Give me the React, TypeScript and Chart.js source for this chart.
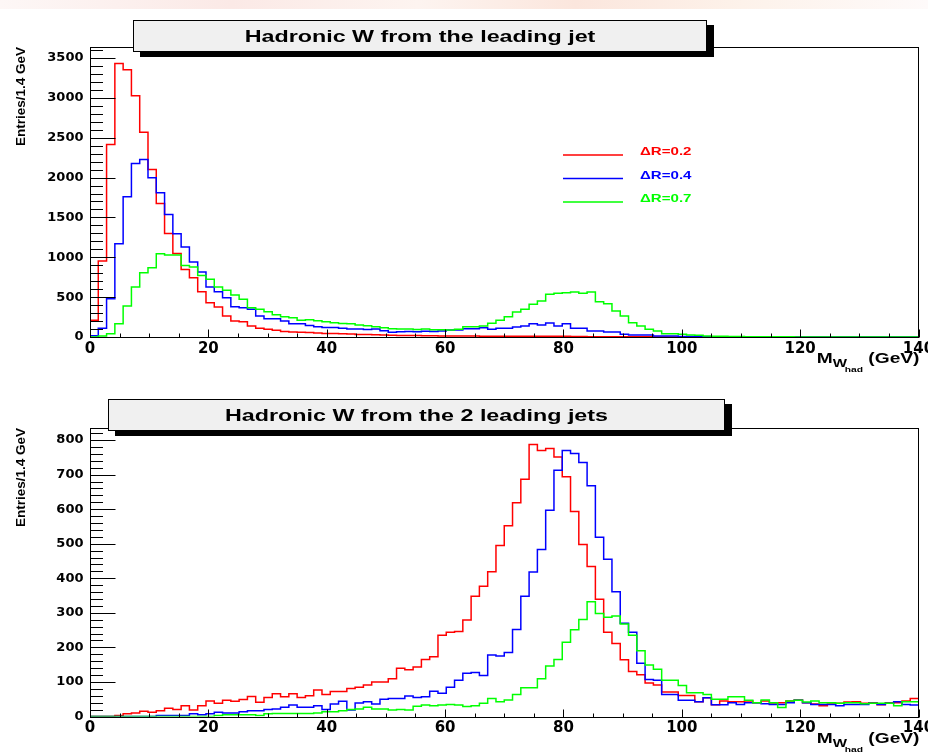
import React, { useEffect, useRef } from "react";
import { Chart, registerables } from "chart.js";

Chart.register(...registerables);

// ---------------- data ----------------
const BIN_WIDTH = 1.4;
const X_MIN = 0;
const X_MAX = 140;
const X_MAJOR = [0, 20, 40, 60, 80, 100, 120, 140];
const X_MINOR_STEP = 5;

const TOP_TITLE = "Hadronic W from the leading jet";
const BOTTOM_TITLE = "Hadronic W from the 2 leading jets";
const Y_TITLE = "Entries/1.4 GeV";
const SERIES_LABELS = ["\u0394R=0.2", "\u0394R=0.4", "\u0394R=0.7"];
const SERIES_COLORS = ["#ff0000", "#0000ff", "#00ff00"];

const TOP_Y_MAJOR = [0, 500, 1000, 1500, 2000, 2500, 3000, 3500];
const TOP_Y_MINOR_STEP = 100;
const TOP_Y_MAX = 3638;

const BOT_Y_MAJOR = [0, 100, 200, 300, 400, 500, 600, 700, 800];
const BOT_Y_MINOR_STEP = 20;
const BOT_Y_MAX = 835;

// leading jet, 100 bins of 1.4 GeV
const TOP_R02 = [
  210, 953, 2414, 3430, 3354, 3028, 2569, 2101, 1675, 1299,
  1048, 848, 743, 568, 430, 376, 263, 200, 192, 138,
  109, 96, 84, 70, 62, 60, 58, 50, 45, 45,
  42, 38, 32, 30, 28, 25, 22, 20, 20, 18,
  16, 15, 14, 13, 12, 12, 11, 10, 10, 10,
  9, 9, 9, 9, 9, 10, 10, 8, 6, 5,
  4, 3, 3, 2, 2, 2, 2, 2, 1, 1,
  1, 1, 1, 1, 1, 1, 1, 1, 1, 1,
  1, 1, 0, 1, 0, 0, 1, 0, 0, 0,
  0, 0, 0, 0, 0, 0, 0, 0, 0, 0,
];
const TOP_R04 = [
  15, 109, 480, 1170, 1760, 2178, 2228, 1998, 1810, 1538,
  1296, 1128, 941, 815, 627, 569, 493, 380, 368, 347,
  263, 230, 230, 200, 165, 165, 145, 130, 120, 120,
  110, 100, 100, 95, 100, 78, 60, 67, 70, 65,
  72, 68, 75, 88, 88, 104, 104, 117, 96, 109,
  109, 125, 138, 167, 150, 175, 138, 167, 109, 109,
  75, 75, 63, 63, 33, 25, 25, 25, 12, 12,
  12, 6, 5, 5, 4, 4, 3, 3, 3, 2,
  2, 2, 2, 2, 1, 1, 1, 1, 1, 1,
  1, 1, 1, 1, 0, 1, 0, 0, 1, 0,
];
const TOP_R07 = [
  0, 12, 42, 167, 389, 627, 806, 869, 1045, 1028,
  1028, 898, 877, 773, 723, 627, 585, 526, 472, 368,
  347, 317, 280, 255, 240, 210, 215, 205, 190, 180,
  170, 165, 150, 140, 130, 115, 105, 100, 100, 95,
  100, 92, 90, 88, 96, 130, 130, 138, 171, 209,
  255, 313, 347, 410, 451, 535, 548, 556, 564, 548,
  564, 443, 418, 326, 263, 180, 138, 96, 75, 42,
  42, 33, 25, 21, 12, 10, 8, 6, 5, 4,
  3, 2, 2, 2, 2, 1, 1, 1, 1, 1,
  1, 1, 0, 1, 0, 0, 1, 0, 0, 0,
];

// two leading jets
const BOT_R02 = [
  0, 0, 0, 3, 8, 10, 15, 12, 17, 24,
  20, 31, 19, 31, 45, 38, 47, 44, 49, 58,
  41, 55, 66, 57, 66, 55, 60, 77, 64, 72,
  72, 81, 85, 91, 100, 100, 109, 140, 135, 143,
  165, 173, 235, 244, 246, 279, 348, 377, 419, 495,
  552, 619, 687, 787, 770, 776, 751, 694, 593, 498,
  434, 339, 244, 211, 164, 130, 121, 97, 91, 71,
  71, 61, 61, 43, 54, 34, 45, 43, 43, 45,
  40, 45, 36, 40, 45, 48, 40, 36, 31, 36,
  38, 42, 43, 38, 40, 34, 40, 40, 45, 52,
];
const BOT_R04 = [
  0, 0, 0, 0, 0, 0, 0, 0, 3, 3,
  3, 3, 8, 5, 8, 12, 10, 10, 14, 17,
  17, 20, 22, 27, 33, 27, 27, 31, 20, 36,
  44, 19, 39, 43, 36, 50, 52, 52, 59, 55,
  57, 73, 67, 85, 105, 125, 127, 119, 178, 175,
  185, 252, 348, 418, 483, 597, 713, 770, 761, 735,
  668, 519, 455, 361, 270, 244, 154, 107, 105, 64,
  64, 47, 47, 43, 54, 34, 34, 40, 35, 40,
  40, 37, 35, 35, 40, 47, 40, 35, 35, 35,
  31, 35, 35, 35, 38, 35, 38, 43, 35, 33,
];
const BOT_R07 = [
  0, 0, 0, 0, 0, 0, 0, 0, 0, 0,
  0, 0, 0, 0, 0, 3, 5, 5, 5, 5,
  3, 8, 9, 9, 9, 9, 9, 10, 14, 14,
  17, 20, 22, 27, 22, 22, 19, 20, 19, 30,
  33, 31, 33, 35, 33, 29, 31, 38, 52, 43,
  48, 64, 83, 83, 109, 146, 165, 215, 251, 281,
  332, 298, 287, 291, 268, 235, 190, 149, 137, 105,
  105, 90, 69, 69, 64, 50, 50, 57, 57, 47,
  40, 48, 40, 26, 45, 47, 42, 45, 40, 40,
  38, 40, 40, 37, 38, 38, 38, 31, 43, 43,
];

// ---------------- styling ----------------
const SX = 1.37; // horizontal stretch of the original lettering
const TEXT_FONT = "'Liberation Sans', Arial, sans-serif";
const TICK_FONT = "'DejaVu Sans', sans-serif";

type Box = { x: number; y: number; w: number; h: number };
type Panel = {
  title: string;
  series: number[][];
  yMax: number;
  yMajor: number[];
  yMinorStep: number;
  legend: boolean;
  height: number;
  areaTop: number;
  xAxisHeight: number;
  box: Box;
};

const PANELS: { top: number; panel: Panel }[] = [
  {
    top: 0,
    panel: {
      title: TOP_TITLE,
      series: [TOP_R02, TOP_R04, TOP_R07],
      yMax: TOP_Y_MAX,
      yMajor: TOP_Y_MAJOR,
      yMinorStep: TOP_Y_MINOR_STEP,
      legend: true,
      height: 378,
      areaTop: 47,
      xAxisHeight: 41,
      box: { x: 133, y: 20, w: 574, h: 32 },
    },
  },
  {
    top: 378,
    panel: {
      title: BOTTOM_TITLE,
      series: [BOT_R02, BOT_R04, BOT_R07],
      yMax: BOT_Y_MAX,
      yMajor: BOT_Y_MAJOR,
      yMinorStep: BOT_Y_MINOR_STEP,
      legend: false,
      height: 377,
      areaTop: 50,
      xAxisHeight: 38.5,
      box: { x: 108, y: 21, w: 617, h: 32 },
    },
  },
];

// bin i holds its value from its low edge to its high edge
function histPoints(values: number[]) {
  const pts: { x: number; y: number }[] = [{ x: X_MIN, y: 0 }];
  values.forEach((v, i) => pts.push({ x: X_MIN + i * BIN_WIDTH, y: v }));
  pts.push({ x: X_MIN + values.length * BIN_WIDTH, y: values[values.length - 1] });
  return pts;
}

function stretchedText(
  ctx: CanvasRenderingContext2D,
  text: string,
  x: number,
  y: number,
  font: string,
  color: string,
  align: "left" | "center" | "right"
) {
  ctx.save();
  ctx.font = font;
  ctx.fillStyle = color;
  ctx.textBaseline = "alphabetic";
  ctx.textAlign = "left";
  const w = ctx.measureText(text).width * SX;
  let left = x;
  if (align === "center") left = x - w / 2;
  else if (align === "right") left = x - w;
  ctx.translate(left, y);
  ctx.scale(SX, 1);
  ctx.fillText(text, 0, 0);
  ctx.restore();
  return w;
}

function measure(ctx: CanvasRenderingContext2D, text: string, font: string) {
  ctx.save();
  ctx.font = font;
  const w = ctx.measureText(text).width * SX;
  ctx.restore();
  return w;
}

function decorPlugin(p: Panel) {
  return {
    id: "rootDecor",
    afterDraw(chart: any) {
      const { ctx, chartArea: a, scales } = chart;
      const xs = scales.x;
      const ys = scales.y;
      ctx.save();
      ctx.strokeStyle = "#000";
      ctx.lineWidth = 1;
      const L = Math.round(a.left) + 0.5;
      const R = Math.round(a.right) - 0.5;
      const T = Math.round(a.top) + 0.5;
      const B = Math.round(a.bottom) + 0.5;
      ctx.strokeRect(L, T, R - L, B - T);

      // y ticks (inside)
      ctx.beginPath();
      for (let v = 0; v <= p.yMax; v += p.yMinorStep) {
        const py = Math.round(ys.getPixelForValue(v)) + 0.5;
        const len = p.yMajor.includes(v) ? 25 : 12.5;
        ctx.moveTo(L, py);
        ctx.lineTo(L + len, py);
      }
      // x ticks (inside)
      for (let v = X_MIN; v <= X_MAX; v += X_MINOR_STEP) {
        const px = Math.round(xs.getPixelForValue(v)) + 0.5;
        const len = X_MAJOR.includes(v) ? 8 : 4;
        ctx.moveTo(px, B);
        ctx.lineTo(px, B - len);
      }
      ctx.stroke();

      // title box with shadow
      const b = p.box;
      ctx.fillStyle = "#000";
      ctx.fillRect(b.x + 7, b.y + 5, b.w, b.h);
      ctx.fillStyle = "#f0f0f0";
      ctx.fillRect(b.x, b.y, b.w, b.h);
      ctx.strokeRect(b.x + 0.5, b.y + 0.5, b.w - 1, b.h - 1);
      stretchedText(ctx, p.title, b.x + b.w / 2, b.y + b.h / 2 + 6, `bold 17px ${TEXT_FONT}`, "#000", "center");

      // legend
      if (p.legend) {
        const rows = [155, 178.5, 202];
        chart.data.datasets.forEach((ds: any, i: number) => {
          const ly = rows[i];
          ctx.strokeStyle = ds.borderColor;
          ctx.lineWidth = 1.3;
          ctx.beginPath();
          ctx.moveTo(563, ly);
          ctx.lineTo(623, ly);
          ctx.stroke();
          stretchedText(ctx, ds.label, 640, ly, `bold 11px ${TEXT_FONT}`, ds.borderColor, "left");
        });
      }

      // x axis title  M_{W_{had}} (GeV)
      const base = a.bottom + 26;
      const fM = `bold 14px ${TEXT_FONT}`;
      const fW = `bold 11px ${TEXT_FONT}`;
      const fH = `bold 7.5px ${TEXT_FONT}`;
      const wM = measure(ctx, "M", fM);
      const wW = measure(ctx, "W", fW);
      const wH = measure(ctx, "had", fH);
      const wG = measure(ctx, " (GeV)", fM);
      const total = wM + wW * 0.85 + wH + wG;
      let cx = a.right + 1 - total;
      stretchedText(ctx, "M", cx, base, fM, "#000", "left");
      cx += wM;
      stretchedText(ctx, "W", cx, base + 4, fW, "#000", "left");
      cx += wW * 0.85;
      stretchedText(ctx, "had", cx, base + 9, fH, "#000", "left");
      cx += wH;
      stretchedText(ctx, " (GeV)", cx, base, fM, "#000", "left");
      ctx.restore();
    },
  };
}

function buildConfig(p: Panel) {
  const orders = [2, 1, 0];
  return {
    type: "line",
    data: {
      datasets: p.series.map((s, i) => ({
        label: SERIES_LABELS[i],
        data: histPoints(s),
        borderColor: SERIES_COLORS[i],
        backgroundColor: SERIES_COLORS[i],
        borderWidth: 1.5,
        stepped: "before",
        pointRadius: 0,
        fill: false,
        order: orders[i],
      })),
    },
    options: {
      animation: false,
      responsive: true,
      maintainAspectRatio: false,
      events: [],
      layout: { padding: { top: p.areaTop, right: 9.5, left: 0, bottom: 0 } },
      plugins: {
        legend: { display: false },
        tooltip: { enabled: false },
        title: { display: false },
      },
      scales: {
        x: {
          type: "linear",
          min: X_MIN,
          max: X_MAX,
          grid: { display: false, drawTicks: false },
          border: { display: false },
          ticks: {
            autoSkip: false,
            maxRotation: 0,
            minRotation: 0,
            padding: 3,
            color: "#000",
            font: { family: TICK_FONT, weight: "bold", size: 15 },
            callback: (v: number) => String(v),
          },
          afterBuildTicks: (s: any) => {
            s.ticks = X_MAJOR.map((v) => ({ value: v }));
          },
          afterFit: (s: any) => {
            s.height = p.xAxisHeight;
            s.paddingLeft = 0;
            s.paddingRight = 0;
          },
        },
        y: {
          type: "linear",
          min: 0,
          max: p.yMax,
          grid: { display: false, drawTicks: false },
          border: { display: false },
          title: {
            display: true,
            text: Y_TITLE,
            align: "end",
            color: "#000",
            font: { family: TEXT_FONT, weight: "bold", size: 13.5 },
            padding: { top: 13, bottom: 0 },
          },
          ticks: {
            autoSkip: false,
            padding: 6.5,
            color: "#000",
            font: { family: TICK_FONT, weight: "bold", size: 13 },
            callback: (v: number) => String(v),
          },
          afterBuildTicks: (s: any) => {
            s.ticks = p.yMajor.map((v) => ({ value: v }));
          },
          afterFit: (s: any) => {
            s.width = 90;
            s.paddingTop = 0;
            s.paddingBottom = 0;
          },
        },
      },
    },
    plugins: [decorPlugin(p)],
  };
}

function PanelChart({ panel, top }: { panel: Panel; top: number }) {
  const ref = useRef<HTMLCanvasElement>(null);
  useEffect(() => {
    if (!ref.current) return;
    const chart = new Chart(ref.current, buildConfig(panel) as any);
    return () => chart.destroy();
  }, [panel]);
  return (
    <div style={{ position: "absolute", left: 0, top, width: 928, height: panel.height }}>
      <canvas ref={ref} />
    </div>
  );
}

export default function App() {
  return (
    <div
      style={{
        position: "absolute",
        left: 0,
        top: 0,
        width: 928,
        height: 755,
        background: "#fff",
        overflow: "hidden",
      }}
    >
      <div
        style={{
          position: "absolute",
          left: 0,
          top: 0,
          width: 928,
          height: 9,
          background:
            "linear-gradient(90deg, #fdf7f6 0%, #fbe9e6 25%, #fdf4f0 45%, #fbe6dd 62%, #fdf2ea 80%, #fefafa 100%)",
        }}
      />
      {PANELS.map((pp, i) => (
        <PanelChart key={i} panel={pp.panel} top={pp.top} />
      ))}
    </div>
  );
}
